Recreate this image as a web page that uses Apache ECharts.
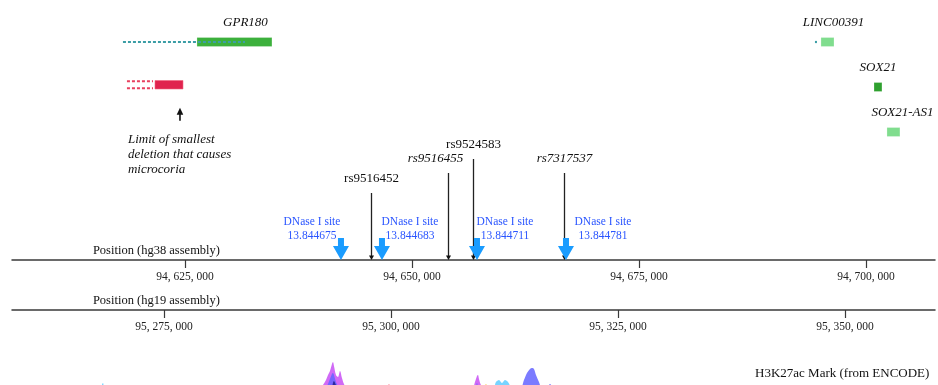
<!DOCTYPE html>
<html>
<head>
<meta charset="utf-8">
<script src="https://cdn.jsdelivr.net/npm/echarts@6/dist/echarts.min.js"></script>
<style>
  html, body { margin: 0; padding: 0; background: #fff; }
  #chart { width: 938px; height: 385px; }
</style>
</head>
<body>
<div id="chart"></div>
<script>
const SERIF = "'Liberation Serif', 'Times New Roman', serif";

// Genomic window shown on the two reference assemblies
const hg38Range = [94605950, 94707600];
const hg19Range = [95258260, 95359910];
const hg38Ticks = [94625000, 94650000, 94675000, 94700000];
const hg19Ticks = [95275000, 95300000, 95325000, 95350000];

// Gene models (hg38): solid block, dotted extent, track lane
const geneNames = ['GPR180', 'LINC00391', 'SOX21', 'SOX21-AS1'];
const geneBlockStart = [94626320, 94695040, 94700880, 94702310];
const geneBlockEnd = [94634580, 94696480, 94701760, 94703740];
const geneDotStart = [94618170, 94694380, null, null];
const geneDotEnd = [94631610, 94694600, null, null];
const geneLane = [1, 1, 2, 3];

// Smallest deletion causing microcoria (hg38)
const deletionDotted = [94618610, 94621480];
const deletionBlock = [94621700, 94624780];
const deletionLimit = 94624450;
const deletionLane = 1.95;

// SNPs: position (hg38) and stem height
const snpIds = ['rs9516452', 'rs9516455', 'rs9524583', 'rs7317537'];
const snpPos = [94645490, 94653960, 94656720, 94666740];
const snpLevel = [6.7, 8.7, 10.1, 8.7];

// DNase I hypersensitive sites
const dnaseScores = ['13.844675', '13.844683', '13.844711', '13.844781'];
const dnasePos = [94642180, 94646695, 94657158, 94666960];

// H3K27ac signal tracks (ENCODE), [position, signal]
const h3k27acViolet = [
  [94639868, 0], [94640198, 3], [94640528, 8], [94640749, 13], [94640969, 17],
  [94641189, 24], [94641299, 26], [94641409, 22], [94641630, 13], [94641850, 11],
  [94642070, 17], [94642290, 10], [94642510, 4], [94642841, 0],
  [94656607, 0], [94656938, 6], [94657158, 12], [94657268, 13], [94657378, 9],
  [94657598, 3], [94657929, 0]
];
const h3k27acBlue = [
  [94640528, 0], [94640749, 4], [94640969, 9], [94641189, 14], [94641299, 15],
  [94641409, 13], [94641630, 6], [94641850, 2], [94642070, 0],
  [94656938, 0], [94657158, 5], [94657378, 0],
  [94661894, 0], [94662334, 8], [94662664, 15], [94662995, 19], [94663215, 20],
  [94663435, 19], [94663656, 13], [94663986, 6], [94664316, 0],
  [94664867, 0], [94665197, 4], [94665527, 0]
];
const h3k27acNavy = [[94641189, 0], [94641409, 7], [94641630, 3], [94641850, 0]];
const h3k27acCyan = [
  [94615749, 0], [94615969, 5], [94616190, 0],
  [94658920, 0], [94659250, 6], [94659581, 8], [94659911, 5], [94660242, 8],
  [94660572, 6], [94660902, 0]
];
const h3k27acPink = [[94647246, 0], [94647466, 4], [94647686, 0]];
const h3k27acYellow = [[94657929, 0], [94658149, 4], [94658369, 0]];

// Styling
const geneColor = { 'GPR180': '#3cb03c', 'LINC00391': '#80dd8e', 'SOX21': '#2fa02f', 'SOX21-AS1': '#80dd8e' };
const geneLabelShift = { 'GPR180': 11, 'LINC00391': 6, 'SOX21': 0, 'SOX21-AS1': 9 };
const italicSnps = new Set(['rs9516455', 'rs7317537']);
const snpLabelShift = { 'rs9516455': -13 };
const dnaseLabelShift = [-29, 28, 28, 37];
const signalTracks = [
  ['Cyan', h3k27acCyan, 'rgba(95,205,255,0.85)'],
  ['Pink', h3k27acPink, 'rgba(255,120,140,0.8)'],
  ['Yellow', h3k27acYellow, 'rgba(255,200,80,0.85)'],
  ['Violet', h3k27acViolet, 'rgba(200,80,245,0.85)'],
  ['Blue', h3k27acBlue, 'rgba(100,100,255,0.85)'],
  ['Navy', h3k27acNavy, 'rgba(30,30,140,0.85)']
];

const fmtPos = v => String(v).replace(/\B(?=(\d{3})+(?!\d))/g, ', ');

function positionAxis(gridIndex, range, ticks, name, offset) {
  return {
    type: 'value', gridIndex, min: range[0], max: range[1], position: 'bottom', offset,
    name, nameLocation: 'start', nameGap: -208,
    nameTextStyle: { fontFamily: SERIF, fontSize: 12.5, color: '#111', align: 'right', verticalAlign: 'bottom', padding: [0, 0, 3, 0] },
    axisLine: { show: true, lineStyle: { color: '#3a3a3a', width: 1.5 } },
    axisTick: { show: true, customValues: ticks, length: 8, lineStyle: { color: '#3a3a3a', width: 1.2 } },
    axisLabel: { show: true, customValues: ticks, formatter: fmtPos, fontFamily: SERIF, fontSize: 11.5, color: '#222', margin: 11 },
    splitLine: { show: false }
  };
}

function hiddenX(gridIndex) {
  return { type: 'value', gridIndex, min: hg38Range[0], max: hg38Range[1], show: false };
}

function renderGene(params, api) {
  const i = params.dataIndex;
  const name = geneNames[i];
  const lane = api.value(2);
  const a = api.coord([api.value(0), lane]);
  const b = api.coord([api.value(1), lane]);
  const h = 9;
  const children = [{
    type: 'rect',
    shape: { x: a[0], y: a[1] - h / 2, width: Math.max(b[0] - a[0], 1), height: h },
    style: { fill: geneColor[name], stroke: 'rgba(255,255,255,0.5)', lineWidth: 0.5 }
  }];
  if (geneDotStart[i] != null) {
    const s = api.coord([geneDotStart[i], lane]);
    const e = api.coord([geneDotEnd[i], lane]);
    children.push({
      type: 'line', shape: { x1: s[0], y1: s[1], x2: e[0], y2: e[1] },
      style: { stroke: '#3c9ea6', lineWidth: 2.2, lineDash: [3, 2] }
    });
  }
  children.push({
    type: 'text', x: (a[0] + b[0]) / 2 + geneLabelShift[name], y: a[1] - 19,
    style: { text: name, fontFamily: SERIF, fontStyle: 'italic', fontSize: 13, fill: '#111', align: 'center', verticalAlign: 'middle' }
  });
  return { type: 'group', children };
}

function renderDeletion(params, api) {
  const lane = api.value(2);
  const a = api.coord([api.value(0), lane]);
  const b = api.coord([api.value(1), lane]);
  const ds = api.coord([deletionDotted[0], lane]);
  const de = api.coord([deletionDotted[1], lane]);
  const lim = api.coord([deletionLimit, lane]);
  const y = a[1], h = 8.5, x = lim[0];
  const dotted = { stroke: '#e8405e', lineWidth: 1.8, lineDash: [3, 2] };
  return {
    type: 'group', children: [
      { type: 'rect', shape: { x: a[0], y: y - h / 2, width: b[0] - a[0], height: h }, style: { fill: '#e0234e', stroke: '#f06580', lineWidth: 0.6 } },
      { type: 'line', shape: { x1: ds[0], y1: y - 3.5, x2: de[0], y2: y - 3.5 }, style: dotted },
      { type: 'line', shape: { x1: ds[0], y1: y + 3.5, x2: de[0], y2: y + 3.5 }, style: dotted },
      { type: 'line', shape: { x1: x, y1: y + 36, x2: x, y2: y + 28 }, style: { stroke: '#111', lineWidth: 1.6 } },
      { type: 'polygon', shape: { points: [[x, y + 23], [x - 3.3, y + 30], [x + 3.3, y + 30]] }, style: { fill: '#111' } },
      {
        type: 'text', x: x - 52, y: y + 47.5,
        style: {
          text: 'Limit of smallest\ndeletion that causes\nmicrocoria',
          fontFamily: SERIF, fontStyle: 'italic', fontSize: 13, lineHeight: 15,
          fill: '#111', align: 'left', verticalAlign: 'top'
        }
      }
    ]
  };
}

function renderSnp(params, api) {
  const id = snpIds[params.dataIndex];
  const base = api.coord([api.value(0), 0]);
  const top = api.coord([api.value(0), api.value(1)]);
  const x = Math.round(base[0]) + 0.5;
  return {
    type: 'group', children: [
      { type: 'line', shape: { x1: x, y1: top[1], x2: x, y2: base[1] - 3 }, style: { stroke: '#222', lineWidth: 1.3 } },
      { type: 'polygon', shape: { points: [[x, base[1]], [x - 2.5, base[1] - 4.5], [x + 2.5, base[1] - 4.5]] }, style: { fill: '#111' } },
      {
        type: 'text', x: x + (snpLabelShift[id] || 0), y: top[1] - 14,
        style: {
          text: id, fontFamily: SERIF, fontSize: 13, fontStyle: italicSnps.has(id) ? 'italic' : 'normal',
          fill: '#111', align: 'center', verticalAlign: 'middle'
        }
      }
    ]
  };
}

function renderDnase(params, api) {
  const i = params.dataIndex;
  const tip = api.coord([api.value(0), 0]);
  const x = tip[0], y = tip[1];
  return {
    type: 'group', children: [
      {
        type: 'polygon',
        shape: { points: [[x - 3, y - 22], [x + 3, y - 22], [x + 3, y - 14], [x + 8, y - 14], [x, y], [x - 8, y - 14], [x - 3, y - 14]] },
        style: { fill: '#1a9cff' }
      },
      {
        type: 'text', x: x + dnaseLabelShift[i], y: y - 45,
        style: {
          text: 'DNase I site\n' + dnaseScores[i], fontFamily: SERIF, fontSize: 11.5, lineHeight: 14,
          fill: '#2a55ff', align: 'center', verticalAlign: 'top'
        }
      }
    ]
  };
}

const chart = echarts.init(document.getElementById('chart'), null, { renderer: 'canvas' });

const signalSeries = signalTracks.map(([name, data, color]) => ({
  name, type: 'line', xAxisIndex: 3, yAxisIndex: 2, data,
  smooth: 0.35, symbol: 'none', silent: true,
  lineStyle: { width: 0 }, areaStyle: { color, opacity: 1 }
}));

chart.setOption({
  animation: false,
  backgroundColor: '#fff',
  grid: [
    { left: 12, right: 3, top: 0, height: 260, outerBoundsMode: 'none' },
    { left: 12, right: 3, top: 42, height: 90, outerBoundsMode: 'none' },
    { left: 12, right: 3, top: 348, height: 40, outerBoundsMode: 'none' }
  ],
  xAxis: [
    positionAxis(0, hg38Range, hg38Ticks, 'Position (hg38 assembly)', 0),
    positionAxis(0, hg19Range, hg19Ticks, 'Position (hg19 assembly)', 50),
    hiddenX(1),
    hiddenX(2)
  ],
  yAxis: [
    { type: 'value', gridIndex: 0, min: 0, max: 26, show: false },
    { type: 'value', gridIndex: 1, min: 1, max: 3, inverse: true, show: false },
    { type: 'value', gridIndex: 2, min: 0, max: 40, show: false }
  ],
  graphic: [{
    type: 'text', left: 755, top: 367,
    style: { text: 'H3K27ac Mark (from ENCODE)', fontFamily: SERIF, fontSize: 13, fill: '#111' }
  }],
  series: [
    {
      type: 'custom', name: 'genes', xAxisIndex: 2, yAxisIndex: 1, silent: true,
      data: geneNames.map((_, i) => [geneBlockStart[i], geneBlockEnd[i], geneLane[i]]),
      renderItem: renderGene
    },
    {
      type: 'custom', name: 'deletion', xAxisIndex: 2, yAxisIndex: 1, silent: true,
      data: [[deletionBlock[0], deletionBlock[1], deletionLane]],
      renderItem: renderDeletion
    },
    {
      type: 'custom', name: 'snps', xAxisIndex: 0, yAxisIndex: 0, silent: true,
      data: snpIds.map((_, i) => [snpPos[i], snpLevel[i]]),
      renderItem: renderSnp
    },
    {
      type: 'custom', name: 'dnase', xAxisIndex: 0, yAxisIndex: 0, silent: true,
      data: dnasePos.map(p => [p, 0]),
      renderItem: renderDnase
    },
    ...signalSeries
  ]
});
</script>
</body>
</html>
